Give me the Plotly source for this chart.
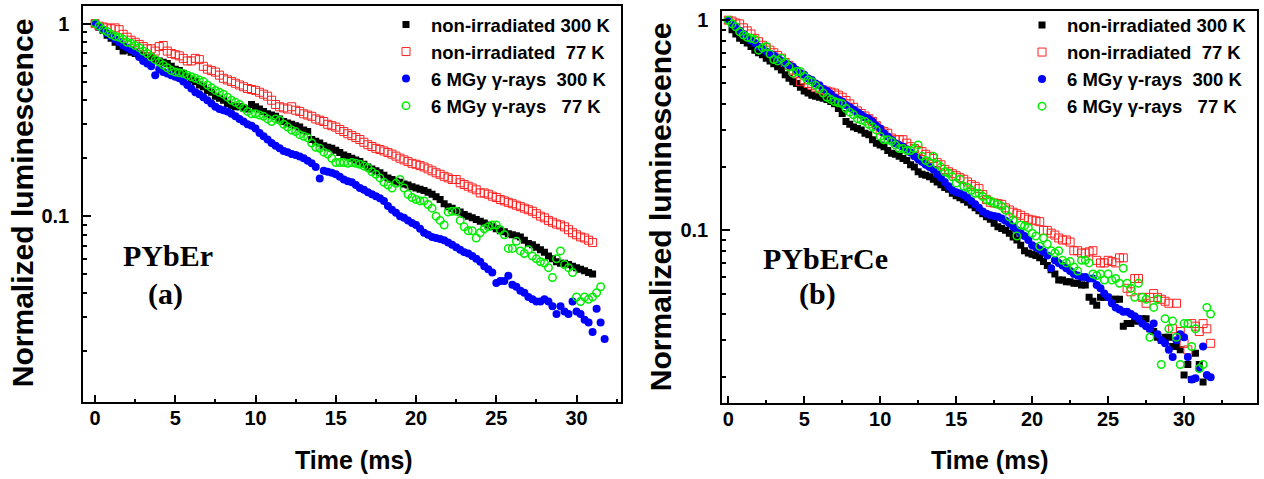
import plotly.graph_objects as go

# ---------------- data ----------------
# sampling step of the decay curves (ms)
STEP = 0.25

# Panel (a): PYbEr
a_nonirr_300K = [1.00, 0.96, 0.92, 0.87, 0.84, 0.80, 0.76, 0.72, 0.73, 0.71, 0.70, 0.69, 0.68, 0.66, 0.67, 0.65,
                 0.64, 0.63, 0.62, 0.60, 0.58, 0.57, 0.55, 0.53, 0.51, 0.50, 0.48, 0.47, 0.45, 0.44, 0.42, 0.41,
                 0.40, 0.385, 0.375, 0.37, 0.37, 0.365, 0.36, 0.38, 0.37, 0.36, 0.35, 0.34, 0.335, 0.33, 0.32, 0.31,
                 0.305, 0.30, 0.295, 0.29, 0.28, 0.275, 0.25, 0.245, 0.24, 0.232, 0.228, 0.225, 0.22, 0.214, 0.208, 0.204,
                 0.20, 0.196, 0.192, 0.186, 0.18, 0.176, 0.172, 0.168, 0.163, 0.158, 0.155, 0.152, 0.15, 0.147, 0.145, 0.142,
                 0.14, 0.138, 0.136, 0.133, 0.13, 0.126, 0.122, 0.116, 0.112, 0.11, 0.107, 0.105, 0.102, 0.10, 0.098, 0.096,
                 0.094, 0.092, 0.09, 0.088, 0.086, 0.084, 0.083, 0.081, 0.08, 0.079, 0.078, 0.075, 0.072, 0.071, 0.069, 0.067,
                 0.065, 0.062, 0.06, 0.058, 0.057, 0.057, 0.056, 0.055, 0.054, 0.053, 0.052, 0.051, 0.050]
a_nonirr_77K = [1.00, 0.97, 0.96, 0.95, 0.94, 0.95, 0.93, 0.88, 0.85, 0.82, 0.80, 0.78, 0.76, 0.74, 0.74, 0.72,
                0.76, 0.77, 0.72, 0.70, 0.69, 0.68, 0.66, 0.64, 0.64, 0.66, 0.65, 0.60, 0.58, 0.57, 0.56, 0.54,
                0.52, 0.51, 0.50, 0.49, 0.48, 0.47, 0.46, 0.455, 0.45, 0.44, 0.43, 0.42, 0.40, 0.38, 0.37, 0.365,
                0.36, 0.37, 0.355, 0.35, 0.34, 0.335, 0.33, 0.32, 0.315, 0.31, 0.30, 0.295, 0.29, 0.282, 0.275, 0.268,
                0.262, 0.256, 0.25, 0.242, 0.235, 0.23, 0.225, 0.222, 0.218, 0.214, 0.21, 0.205, 0.20, 0.196, 0.192, 0.188,
                0.186, 0.183, 0.18, 0.176, 0.172, 0.168, 0.165, 0.161, 0.158, 0.155, 0.155, 0.149, 0.146, 0.143, 0.14, 0.137,
                0.132, 0.132, 0.13, 0.127, 0.125, 0.122, 0.12, 0.118, 0.116, 0.114, 0.112, 0.11, 0.108, 0.106, 0.103, 0.10,
                0.098, 0.095, 0.093, 0.091, 0.09, 0.088, 0.085, 0.082, 0.08, 0.078, 0.077, 0.075, 0.073]
a_6MGy_300K = [1.00, 0.96, 0.93, 0.89, 0.86, 0.83, 0.80, 0.77, 0.75, 0.73, 0.71, 0.67, 0.64, 0.62, 0.60, 0.54,
               0.58, 0.56, 0.55, 0.54, 0.53, 0.52, 0.50, 0.48, 0.46, 0.44, 0.43, 0.415, 0.40, 0.385, 0.37, 0.36,
               0.355, 0.35, 0.34, 0.33, 0.32, 0.31, 0.30, 0.295, 0.285, 0.27, 0.26, 0.25, 0.24, 0.232, 0.225, 0.218,
               0.215, 0.21, 0.208, 0.204, 0.20, 0.194, 0.188, 0.18, 0.157, 0.172, 0.17, 0.168, 0.165, 0.16, 0.155, 0.152,
               0.15, 0.145, 0.14, 0.137, 0.133, 0.13, 0.127, 0.124, 0.12, 0.113, 0.108, 0.104, 0.10, 0.098, 0.095, 0.092,
               0.09, 0.086, 0.082, 0.08, 0.078, 0.077, 0.076, 0.075, 0.073, 0.071, 0.069, 0.067, 0.065, 0.064, 0.062, 0.06,
               0.058, 0.055, 0.053, 0.051, 0.045, 0.046, 0.046, 0.049, 0.044, 0.043, 0.041, 0.04, 0.038, 0.037, 0.036, 0.036,
               0.037, 0.036, 0.034, 0.031, 0.034, 0.032, 0.031, 0.036, 0.032, 0.031, 0.029, 0.028, 0.025, 0.033, 0.028, 0.023]
a_6MGy_77K = [1.00, 0.97, 0.93, 0.91, 0.88, 0.86, 0.85, 0.83, 0.80, 0.79, 0.77, 0.75, 0.72, 0.70, 0.67, 0.65,
              0.63, 0.61, 0.59, 0.57, 0.56, 0.555, 0.55, 0.54, 0.53, 0.52, 0.51, 0.50, 0.48, 0.465, 0.45, 0.44,
              0.43, 0.415, 0.40, 0.39, 0.38, 0.365, 0.35, 0.34, 0.34, 0.335, 0.33, 0.32, 0.31, 0.32, 0.315, 0.30,
              0.29, 0.28, 0.275, 0.265, 0.26, 0.255, 0.24, 0.228, 0.225, 0.215, 0.21, 0.20, 0.19, 0.19, 0.19, 0.188,
              0.19, 0.188, 0.186, 0.182, 0.178, 0.17, 0.165, 0.158, 0.15, 0.145, 0.14, 0.148, 0.155, 0.14, 0.13, 0.125,
              0.122, 0.12, 0.12, 0.115, 0.11, 0.10, 0.095, 0.09, 0.105, 0.106, 0.106, 0.095, 0.088, 0.084, 0.084, 0.077,
              0.082, 0.086, 0.088, 0.09, 0.09, 0.085, 0.08, 0.068, 0.068, 0.074, 0.066, 0.064, 0.067, 0.062, 0.06, 0.058,
              0.057, 0.054, 0.048, 0.06, 0.066, 0.056, 0.054, 0.051, 0.038, 0.036, 0.038, 0.037, 0.038, 0.04, 0.043]

# Panel (b): PYbErCe
b_nonirr_300K = [1.00, 0.90, 0.86, 0.82, 0.80, 0.78, 0.75, 0.72, 0.70, 0.685, 0.66, 0.64, 0.62, 0.60, 0.58, 0.55,
                 0.53, 0.51, 0.50, 0.48, 0.46, 0.45, 0.44, 0.435, 0.43, 0.425, 0.42, 0.41, 0.40, 0.38, 0.36, 0.33,
                 0.32, 0.31, 0.305, 0.30, 0.29, 0.285, 0.27, 0.26, 0.255, 0.25, 0.24, 0.233, 0.23, 0.225, 0.22, 0.215,
                 0.205, 0.20, 0.19, 0.185, 0.183, 0.18, 0.175, 0.17, 0.165, 0.16, 0.157, 0.15, 0.146, 0.143, 0.14, 0.136,
                 0.132, 0.128, 0.124, 0.12, 0.116, 0.113, 0.108, 0.104, 0.102, 0.10, 0.097, 0.093, 0.09, 0.085, 0.08, 0.078,
                 0.077, 0.076, 0.074, 0.071, 0.068, 0.065, 0.062, 0.058, 0.058, 0.057, 0.057, 0.056, 0.056, 0.055, 0.055, 0.048,
                 0.046, 0.044, 0.048, 0.048, 0.048, 0.047, 0.047, 0.047, 0.035, 0.036, 0.036, 0.037, 0.037, 0.038, 0.038, 0.034,
                 0.033, 0.031, 0.030, 0.031, 0.031, 0.028, 0.028, 0.027, 0.0205, 0.023, 0.0195, 0.026, 0.023, 0.019]
b_nonirr_77K = [1.00, 0.99, 0.97, 0.96, 0.92, 0.89, 0.86, 0.82, 0.79, 0.76, 0.74, 0.72, 0.70, 0.68, 0.66, 0.63,
                0.61, 0.58, 0.56, 0.51, 0.52, 0.50, 0.49, 0.48, 0.47, 0.465, 0.46, 0.455, 0.45, 0.44, 0.43, 0.415,
                0.40, 0.385, 0.37, 0.36, 0.35, 0.34, 0.33, 0.315, 0.30, 0.295, 0.29, 0.275, 0.27, 0.27, 0.27, 0.26,
                0.25, 0.245, 0.24, 0.237, 0.23, 0.225, 0.22, 0.21, 0.205, 0.195, 0.19, 0.186, 0.182, 0.178, 0.175, 0.17,
                0.165, 0.162, 0.158, 0.148, 0.14, 0.136, 0.135, 0.134, 0.133, 0.128, 0.125, 0.122, 0.12, 0.118, 0.115, 0.113,
                0.112, 0.111, 0.11, 0.10, 0.10, 0.097, 0.095, 0.092, 0.09, 0.09, 0.088, 0.08, 0.08, 0.078, 0.078, 0.079,
                0.08, 0.072, 0.07, 0.07, 0.072, 0.071, 0.07, 0.074, 0.074, 0.053, 0.051, 0.059, 0.059, 0.048, 0.045, 0.048,
                0.05, 0.048, 0.047, 0.046, 0.045, 0.034, 0.045, 0.033, 0.029, 0.027, 0.036, 0.035, 0.033, 0.036, 0.034, 0.029]
b_6MGy_300K = [1.00, 0.96, 0.93, 0.89, 0.86, 0.83, 0.80, 0.78, 0.75, 0.73, 0.71, 0.69, 0.68, 0.66, 0.64, 0.62,
               0.61, 0.60, 0.58, 0.56, 0.55, 0.53, 0.52, 0.50, 0.49, 0.47, 0.46, 0.445, 0.43, 0.42, 0.41, 0.395,
               0.385, 0.375, 0.365, 0.355, 0.345, 0.34, 0.33, 0.315, 0.305, 0.29, 0.28, 0.27, 0.26, 0.255, 0.25, 0.243,
               0.235, 0.225, 0.218, 0.212, 0.205, 0.20, 0.195, 0.185, 0.178, 0.17, 0.162, 0.155, 0.152, 0.15, 0.147, 0.143,
               0.138, 0.133, 0.128, 0.123, 0.12, 0.118, 0.117, 0.116, 0.114, 0.111, 0.108, 0.104, 0.10, 0.097, 0.094, 0.09,
               0.085, 0.083, 0.081, 0.079, 0.076, 0.066, 0.072, 0.07, 0.068, 0.066, 0.064, 0.062, 0.061, 0.06, 0.06, 0.059,
               0.059, 0.055, 0.053, 0.05, 0.048, 0.045, 0.043, 0.042, 0.041, 0.041, 0.040, 0.039, 0.038, 0.036, 0.035, 0.034,
               0.036, 0.032, 0.030, 0.029, 0.027, 0.025, 0.030, 0.032, 0.031, 0.025, 0.0195, 0.0198, 0.022, 0.028, 0.0205, 0.020]
b_6MGy_77K = [1.00, 0.96, 0.93, 0.88, 0.85, 0.83, 0.82, 0.81, 0.72, 0.74, 0.75, 0.69, 0.65, 0.64, 0.66, 0.63,
              0.60, 0.56, 0.57, 0.57, 0.54, 0.52, 0.51, 0.49, 0.47, 0.45, 0.43, 0.42, 0.41, 0.405, 0.40, 0.38,
              0.365, 0.355, 0.34, 0.335, 0.33, 0.32, 0.31, 0.30, 0.28, 0.27, 0.27, 0.265, 0.255, 0.245, 0.245, 0.24,
              0.24, 0.245, 0.255, 0.225, 0.215, 0.21, 0.225, 0.206, 0.20, 0.19, 0.187, 0.18, 0.168, 0.175, 0.162, 0.16,
              0.155, 0.15, 0.15, 0.145, 0.14, 0.138, 0.135, 0.133, 0.13, 0.125, 0.116, 0.112, 0.094, 0.106, 0.105, 0.103,
              0.097, 0.094, 0.084, 0.092, 0.086, 0.08, 0.078, 0.08, 0.072, 0.07, 0.071, 0.067, 0.064, 0.072, 0.072, 0.07,
              0.062, 0.061, 0.062, 0.058, 0.062, 0.058, 0.059, 0.056, 0.066, 0.056, 0.053, 0.048, 0.056, 0.048, 0.047, 0.031,
              0.043, 0.047, 0.023, 0.038, 0.034, 0.037, 0.031, 0.023, 0.036, 0.036, 0.028, 0.034, 0.022, 0.023, 0.043, 0.040]

series_names = ["non-irradiated 300 K", "non-irradiated\u00a0\u00a077 K",
                "6 MGy \u03b3-rays\u00a0\u00a0300 K", "6 MGy \u03b3-rays\u00a0\u00a0\u00a077 K"]

x_tick_vals = [0, 5, 10, 15, 20, 25, 30]
x_minor_vals = [2.5, 7.5, 12.5, 17.5, 22.5, 27.5, 32.5]
y_tick_vals = [0.1, 1]
y_tick_text = ["0.1", "1"]
y_minor_vals = [0.02, 0.03, 0.04, 0.05, 0.06, 0.07, 0.08, 0.09, 0.2, 0.3, 0.4, 0.5, 0.6, 0.7, 0.8, 0.9]

# ---------------- styles ----------------
styles = [
    dict(symbol="square", size=7, color="#000000", line=dict(width=0)),
    dict(symbol="square-open", size=8, color="#FF2020", line=dict(width=1, color="#FF2020")),
    dict(symbol="circle", size=8, color="#0000FF", line=dict(width=0)),
    dict(symbol="circle-open", size=7.5, color="#00EE00", line=dict(width=1.5, color="#00EE00")),
]

fig = go.Figure()

panel_a = [a_nonirr_300K, a_nonirr_77K, a_6MGy_300K, a_6MGy_77K]
panel_b = [b_nonirr_300K, b_nonirr_77K, b_6MGy_300K, b_6MGy_77K]

for vals, name, st in zip(panel_a, series_names, styles):
    t = [i * STEP for i in range(len(vals))]
    fig.add_trace(go.Scatter(x=t, y=vals, mode="markers", name=name, marker=st,
                             xaxis="x", yaxis="y", legend="legend"))
for vals, name, st in zip(panel_b, series_names, styles):
    t = [i * STEP for i in range(len(vals))]
    fig.add_trace(go.Scatter(x=t, y=vals, mode="markers", name=name, marker=st,
                             xaxis="x2", yaxis="y2", legend="legend2"))

W, H = 1264, 479
tickfont = dict(family="Liberation Sans, Arial, sans-serif", size=20, color="black", weight="bold")


def xaxis(domain, rng, anchor):
    return dict(domain=domain, range=rng, anchor=anchor, showgrid=False, zeroline=False,
                showline=True, linecolor="black", linewidth=1.5, mirror=True,
                ticks="inside", ticklen=8, tickwidth=1.5, tickcolor="black",
                tickmode="array", tickvals=x_tick_vals,
                minor=dict(tickmode="array", tickvals=x_minor_vals, ticks="inside", ticklen=4,
                           tickwidth=1.5, tickcolor="black"),
                tickfont=tickfont, ticklabelstandoff=-3)


def yaxis(domain, rng, anchor):
    return dict(domain=domain, range=rng, anchor=anchor, type="log", showgrid=False, zeroline=False,
                showline=True, linecolor="black", linewidth=1.5, mirror=True,
                ticks="inside", ticklen=8, tickwidth=1.5, tickcolor="black",
                tickmode="array", tickvals=y_tick_vals, ticktext=y_tick_text,
                minor=dict(tickmode="array", tickvals=y_minor_vals, ticks="inside", ticklen=4,
                           tickwidth=1.5, tickcolor="black"),
                tickfont=tickfont, ticklabelstandoff=8)


legend_font = dict(family="Liberation Sans, Arial, sans-serif", size=18.5, color="black", weight="bold")
title_font = dict(family="Liberation Sans, Arial, sans-serif", size=30, color="black", weight="bold")
xt_font = dict(family="Liberation Sans, Arial, sans-serif", size=25, color="black", weight="bold")
label_font = dict(family="Liberation Serif, Times New Roman, serif", size=30, color="black", weight="bold")

fig.update_layout(
    width=W, height=H,
    margin=dict(l=0, r=0, t=0, b=0),
    paper_bgcolor="white", plot_bgcolor="white",
    xaxis=xaxis([83 / W, 621 / W], [-0.75, 32.77], "y"),
    yaxis=yaxis([1 - 402 / H, 1 - 4 / H], [-1.967, 0.0916], "x"),
    xaxis2=xaxis([722 / W, 1257 / W], [-0.41, 34.8], "y2"),
    yaxis2=yaxis([1 - 403 / H, 1 - 9 / H], [-1.823, 0.044], "x2"),
    legend=dict(x=381 / W, y=1 - 4 / H, xanchor="left", yanchor="top", font=legend_font,
                bgcolor="rgba(0,0,0,0)", borderwidth=0, tracegroupgap=0, itemsizing="trace",
                itemwidth=40),
    legend2=dict(x=1017 / W, y=1 - 4.5 / H, xanchor="left", yanchor="top", font=legend_font,
                 bgcolor="rgba(0,0,0,0)", borderwidth=0, tracegroupgap=0, itemsizing="trace",
                 itemwidth=40),
    annotations=[
        dict(text="Normalized luminescence", x=22 / W, y=1 - 202 / H, xref="paper", yref="paper",
             textangle=-90, showarrow=False, font=title_font, xanchor="center", yanchor="middle"),
        dict(text="Normalized luminescence", x=660 / W, y=1 - 206 / H, xref="paper", yref="paper",
             textangle=-90, showarrow=False, font=title_font, xanchor="center", yanchor="middle"),
        dict(text="Time (ms)", x=354 / W, y=1 - 460 / H, xref="paper", yref="paper",
             showarrow=False, font=xt_font, xanchor="center", yanchor="middle"),
        dict(text="Time (ms)", x=990 / W, y=1 - 460 / H, xref="paper", yref="paper",
             showarrow=False, font=xt_font, xanchor="center", yanchor="middle"),
        dict(text="PYbEr", x=168 / W, y=1 - 255 / H, xref="paper", yref="paper",
             showarrow=False, font=label_font, xanchor="center", yanchor="middle"),
        dict(text="(a)", x=165 / W, y=1 - 293 / H, xref="paper", yref="paper",
             showarrow=False, font=label_font, xanchor="center", yanchor="middle"),
        dict(text="PYbErCe", x=825 / W, y=1 - 258 / H, xref="paper", yref="paper",
             showarrow=False, font=label_font, xanchor="center", yanchor="middle"),
        dict(text="(b)", x=817 / W, y=1 - 293 / H, xref="paper", yref="paper",
             showarrow=False, font=label_font, xanchor="center", yanchor="middle"),
    ],
)

fig.write_html("out.html")
